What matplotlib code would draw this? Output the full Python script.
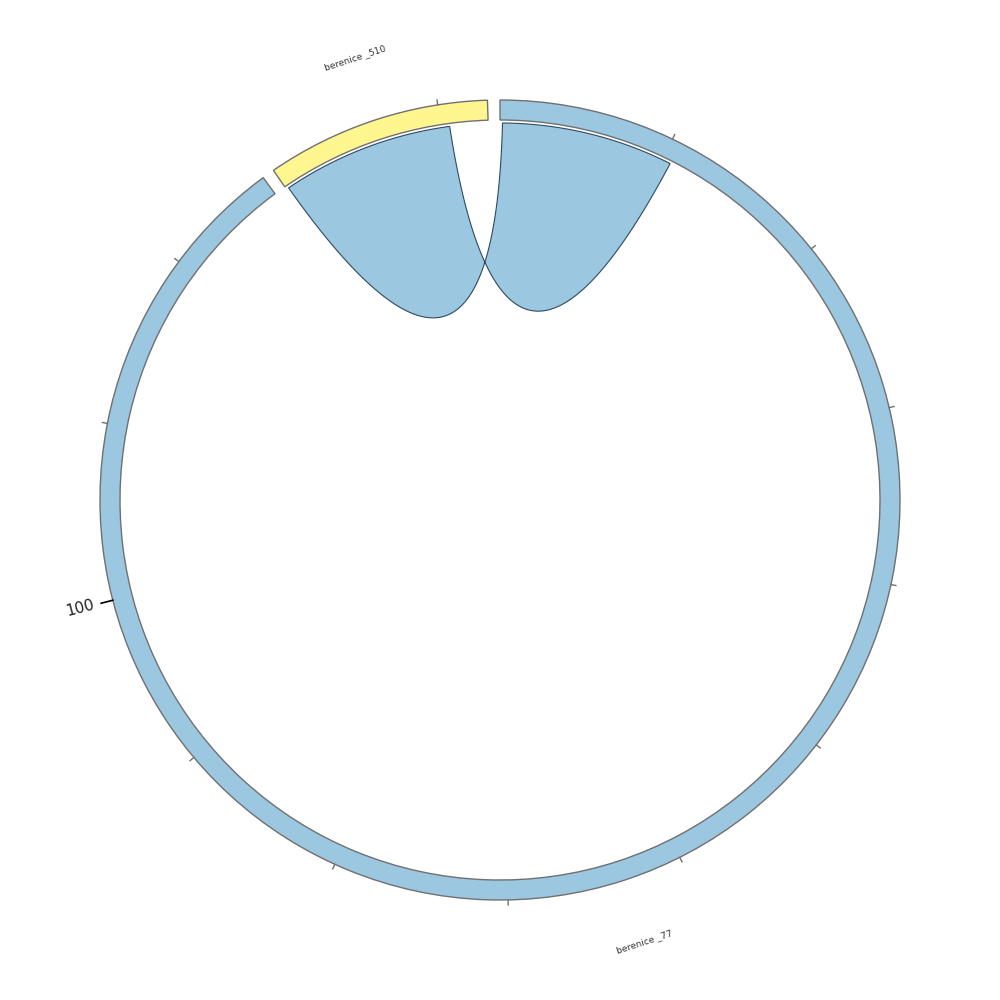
import matplotlib
matplotlib.use("Agg")
import matplotlib.pyplot as plt
from matplotlib.patches import Wedge, PathPatch
from matplotlib.path import Path
import numpy as np

# sectors, going clockwise from the yellow one
sectors = ["berenice _510", "berenice _77"]
sector_len = [12.8, 126.7]
sector_colors = ["#FFF68F", "#9BC7E1"]

# one link: sector, start, end on each side
link_a = ("berenice _510", 0.15, 10.5)
link_b = ("berenice _77", 0.15, 10.5)
link_color = "#9BC7E1"

tick_step = 10
labelled_ticks = [100]

start_deg = 124.5
gap = 1.8
r_out = 400
r_in = 380
r_link = 377

dpu = (360 - gap * len(sectors)) / sum(sector_len)

# start angle of each sector
sector_start = {}
a = start_deg
for name, n in zip(sectors, sector_len):
    sector_start[name] = a
    a = a - n * dpu - gap


def ang(name, x):
    return sector_start[name] - x * dpu


def pol(r, deg):
    t = np.radians(deg)
    return np.array([r * np.cos(t), r * np.sin(t)])


fig = plt.figure(figsize=(10, 10), dpi=100)
ax = fig.add_axes([0, 0, 1, 1])
ax.set_xlim(-500, 500)
ax.set_ylim(-500, 500)
ax.set_aspect("equal")
ax.axis("off")

# ring
for name, n, col in zip(sectors, sector_len, sector_colors):
    a0 = sector_start[name]
    a1 = ang(name, n)
    ax.add_patch(Wedge((0, 0), r_out, a1, a0, width=r_out - r_in,
                       facecolor=col, edgecolor="#707070", lw=1.0))

    # ticks
    for x in np.arange(tick_step, n, tick_step):
        t = ang(name, x)
        if x in labelled_ticks:
            p0, p1 = pol(r_out, t), pol(r_out + 12, t)
            ax.plot([p0[0], p1[0]], [p0[1], p1[1]], color="black", lw=1.2)
            p = pol(r_out + 19, t)
            rot = t - 180 if np.cos(np.radians(t)) < 0 else t
            ax.text(p[0], p[1] + 1, str(int(x)), fontsize=11, rotation=rot,
                    rotation_mode="anchor", ha="right", va="center",
                    color="#222222")
        else:
            p0, p1 = pol(r_out, t), pol(r_out + 5, t)
            ax.plot([p0[0], p1[0]], [p0[1], p1[1]], color="#707070", lw=1.0)

    # sector name
    mid = (a0 + a1) / 2
    p = pol(465, mid)
    rot = mid - 90 if np.sin(np.radians(mid)) > 0 else mid + 90
    ax.text(p[0], p[1], name, fontsize=6.5, rotation=rot, ha="center",
            va="center", color="#333333")

# link (twisted: start-start, end-end)
ya0, ya1 = ang(link_a[0], link_a[1]), ang(link_a[0], link_a[2])
yb0, yb1 = ang(link_b[0], link_b[1]), ang(link_b[0], link_b[2])


def curve(d0, d1, h=24):
    c = pol(h, (d0 + d1) / 2)
    p0, p2 = pol(r_link, d0), pol(r_link, d1)
    t = np.linspace(0, 1, 80)[:, None]
    return (1 - t) ** 2 * p0 + 2 * t * (1 - t) * c + t ** 2 * p2


def arc(d0, d1):
    t = np.linspace(d0, d1, 60)
    return np.column_stack([r_link * np.cos(np.radians(t)), r_link * np.sin(np.radians(t))])


pts = np.vstack([arc(ya0, ya1), curve(ya1, yb1), arc(yb1, yb0), curve(yb0, ya0)])
pts = np.vstack([pts, pts[:1]])
ax.add_patch(PathPatch(Path(pts, closed=True), facecolor=link_color,
                       edgecolor="#2E4A60", lw=0.8))

plt.savefig("out.png", dpi=100)
